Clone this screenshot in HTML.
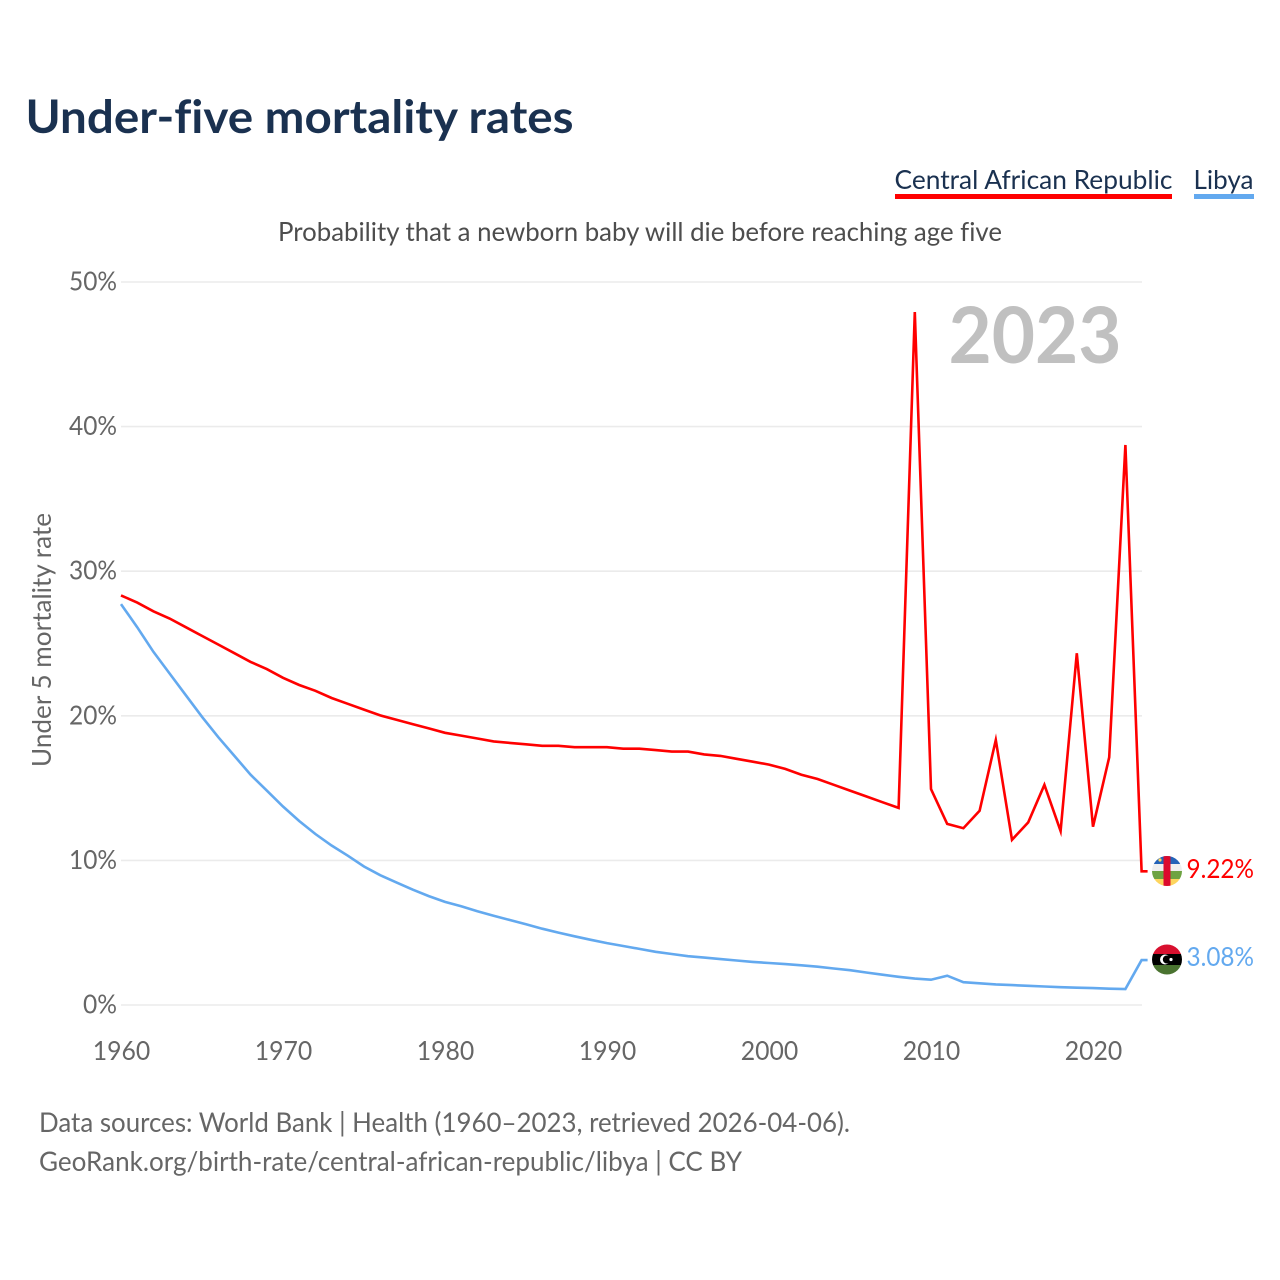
<!DOCTYPE html>
<html lang="en">
<head>
<meta charset="utf-8">
<title>Under-five mortality rates</title>
<style>
html,body{margin:0;padding:0;background:#fff;}
svg{display:block;}
text{font-family:"Lato","Carlito","Liberation Sans",sans-serif;font-variant-ligatures:none;}
</style>
</head>
<body>
<svg id="chart" xmlns="http://www.w3.org/2000/svg" width="1280" height="1280" viewBox="0 0 1280 1280">
  <defs>
    <clipPath id="flag-clip-car"><circle cx="1167" cy="871" r="15"/></clipPath>
    <clipPath id="flag-clip-lby"><circle cx="1167" cy="959.5" r="15"/></clipPath>
  </defs>
  <rect width="1280" height="1280" fill="#fff"/>
  <text x="25.5" y="133" font-size="46" font-weight="700" fill="#1a3150" textLength="548" lengthAdjust="spacingAndGlyphs">Under-five mortality rates</text>

  <text x="894.5" y="189" font-size="26" fill="#1a3150" textLength="278" lengthAdjust="spacingAndGlyphs">Central African Republic</text>
  <rect x="895" y="194" width="277" height="5" fill="#ff0000"/>
  <text x="1193.5" y="189" font-size="26" fill="#1a3150" textLength="60" lengthAdjust="spacingAndGlyphs">Libya</text>
  <rect x="1194" y="194" width="60" height="5" fill="#63a9ef"/>

  <text x="278" y="241" font-size="26" fill="#4d4d4d" textLength="724" lengthAdjust="spacingAndGlyphs">Probability that a newborn baby will die before reaching age five</text>

  <g id="grid"></g>
  <g id="y-ticks"></g>
  <g id="x-ticks"></g>

  <text transform="translate(51,640) rotate(-90)" text-anchor="middle" font-size="26" fill="#666" textLength="254" lengthAdjust="spacingAndGlyphs">Under 5 mortality rate</text>

  <text id="year-label" x="948.5" y="363" font-size="78" font-weight="700" fill="#c0c0c0" textLength="173" lengthAdjust="spacingAndGlyphs"></text>

  <g id="series"></g>

  <g clip-path="url(#flag-clip-car)">
    <rect x="1152" y="856" width="30" height="8" fill="#2463b8"/>
    <rect x="1152" y="864" width="30" height="7" fill="#efefef"/>
    <rect x="1152" y="871" width="30" height="8" fill="#6ea342"/>
    <rect x="1152" y="879" width="30" height="7" fill="#fdd55e"/>
    <rect x="1163.5" y="856" width="7" height="30" fill="#dc0a2d"/>
    <circle cx="1160" cy="860" r="1.6" fill="#fdd55e"/>
  </g>
  <g clip-path="url(#flag-clip-lby)">
    <rect x="1152" y="944" width="30" height="10" fill="#d8102f"/>
    <rect x="1152" y="954" width="30" height="11" fill="#000"/>
    <rect x="1152" y="965" width="30" height="10" fill="#4a7330"/>
    <circle cx="1165" cy="959.5" r="5" fill="#fff"/>
    <circle cx="1166.8" cy="959.5" r="4" fill="#000"/>
    <circle cx="1171" cy="959.5" r="1.6" fill="#fff"/>
  </g>

  <text id="value-car" x="1186.5" y="878" font-size="26" fill="#ff0000" textLength="67.5" lengthAdjust="spacingAndGlyphs"></text>
  <text id="value-lby" x="1186.5" y="966" font-size="26" fill="#63a9ef" textLength="67.5" lengthAdjust="spacingAndGlyphs"></text>

  <text x="39" y="1132" font-size="27" fill="#666" textLength="811" lengthAdjust="spacingAndGlyphs">Data sources: World Bank | Health (1960–2023, retrieved 2026-04-06).</text>
  <text x="39" y="1171" font-size="27" fill="#666" textLength="703" lengthAdjust="spacingAndGlyphs">GeoRank.org/birth-rate/central-african-republic/libya | CC BY</text>
</svg>
<script>
const startYear = 1960;
const carValues = [28.3,27.8,27.2,26.7,26.1,25.5,24.9,24.3,23.7,23.2,22.6,22.1,21.7,21.2,20.8,20.4,20.0,19.7,19.4,19.1,18.8,18.6,18.4,18.2,18.1,18.0,17.9,17.9,17.8,17.8,17.8,17.7,17.7,17.6,17.5,17.5,17.3,17.2,17.0,16.8,16.6,16.3,15.9,15.6,15.2,14.8,14.4,14.0,13.6,47.9,14.9,12.5,12.2,13.4,18.3,11.4,12.6,15.2,12.0,24.3,12.3,17.1,38.7,9.22];
const libyaValues = [27.7,26.1,24.4,22.9,21.4,19.9,18.5,17.2,15.9,14.8,13.7,12.7,11.8,11.0,10.3,9.55,8.95,8.45,7.95,7.5,7.1,6.8,6.45,6.15,5.85,5.55,5.25,4.98,4.72,4.48,4.25,4.05,3.85,3.65,3.5,3.35,3.25,3.15,3.05,2.95,2.88,2.8,2.72,2.62,2.5,2.38,2.22,2.07,1.92,1.8,1.72,2.0,1.55,1.47,1.4,1.35,1.3,1.25,1.2,1.17,1.14,1.1,1.08,3.08];
const yTickValues = [0,10,20,30,40,50];
const xTickValues = [1960,1970,1980,1990,2000,2010,2020];
const latestYear = 2023;

const SVG_NS = 'http://www.w3.org/2000/svg';
function xScale(year){ return 121 + (year - 1960) * 16.2; }
function yScale(pct){ return 1005 - pct * (1005 - 282) / 50; }
function make(tag, attrs, parent){
  const el = document.createElementNS(SVG_NS, tag);
  for (const k in attrs) el.setAttribute(k, attrs[k]);
  parent.appendChild(el);
  return el;
}
const gridG = document.getElementById('grid');
const yG = document.getElementById('y-ticks');
const xG = document.getElementById('x-ticks');
const seriesG = document.getElementById('series');

yTickValues.forEach(function(v){
  const gl = make('line', {x1:121, x2:1142, y1:yScale(v), y2:yScale(v), stroke:'#ebebeb', 'stroke-width':1.6}, gridG);
  
  
  const t = make('text', {x:117, y:yScale(v)+8.5, 'text-anchor':'end', 'font-size':26, fill:'#666', textLength:(v === 0 ? 34 : 48), lengthAdjust:'spacingAndGlyphs'}, yG);
  t.textContent = v + '%';
  
  
});
xTickValues.forEach(function(v){
  const t = make('text', {x:xScale(v) + 0.5, y:1060, 'text-anchor':'middle', 'font-size':26, fill:'#666', textLength:57.5, lengthAdjust:'spacingAndGlyphs'}, xG);
  t.textContent = String(v);
  
  
});
function drawSeries(values, color){
  const pts = values.map(function(v, i){ return xScale(startYear + i).toFixed(1) + ',' + (yScale(v) - 0.4).toFixed(1); });
  const last = values[values.length - 1];
  pts.push((xScale(startYear + values.length - 1) + 6).toFixed(1) + ',' + (yScale(last) - 0.4).toFixed(1));
  return make('polyline', {points:pts.join(' '), fill:'none', stroke:color, 'stroke-width':2.6, 'stroke-linejoin':'miter', 'stroke-miterlimit':6}, seriesG);
}
const lineLibya = drawSeries(libyaValues, '#63a9ef');


const lineCar = drawSeries(carValues, '#ff0000');



document.getElementById('year-label').textContent = String(latestYear);
document.getElementById('value-car').textContent = carValues[carValues.length - 1].toFixed(2) + '%';
document.getElementById('value-lby').textContent = libyaValues[libyaValues.length - 1].toFixed(2) + '%';
</script>
</body>
</html>
